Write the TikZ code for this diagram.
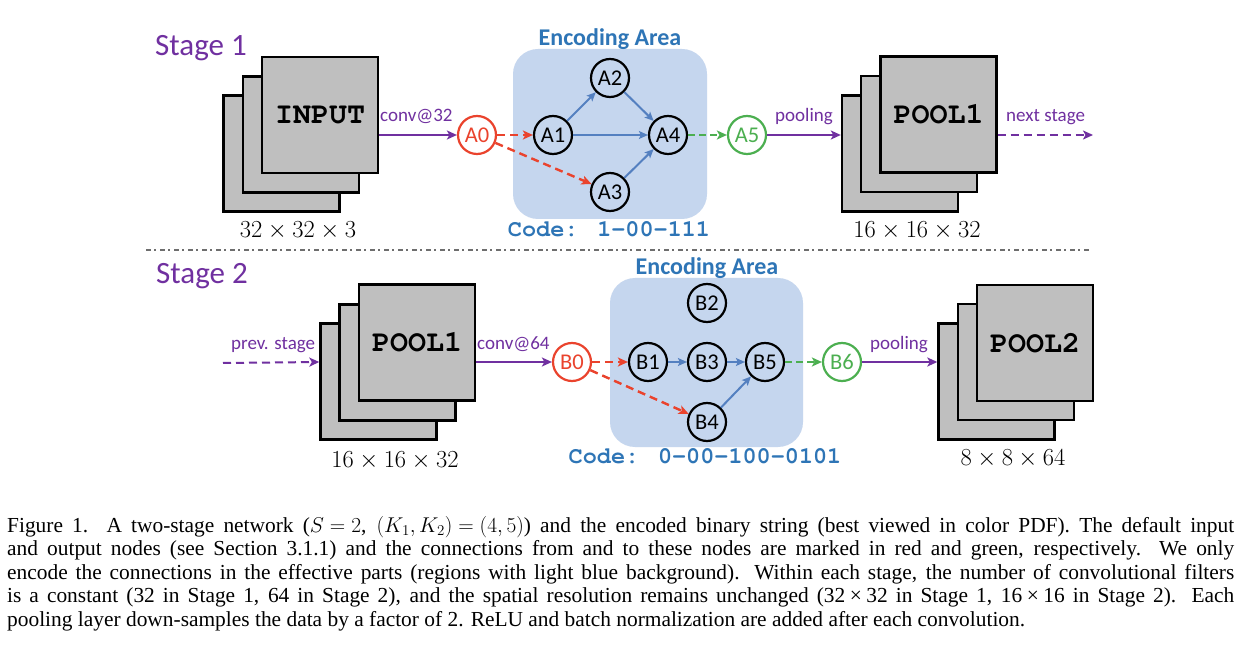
\RequirePackage{fix-cm}
\documentclass[tikz,border=0pt]{standalone}
\usepackage{fontspec}
\setmainfont{Liberation Serif}
\newfontfamily\calfont{Carlito}
\newfontfamily\courfont{TeX Gyre Cursor}
\usetikzlibrary{arrows.meta}
\definecolor{cpurple}{RGB}{112,48,160}
\definecolor{cred}{RGB}{234,67,45}
\definecolor{cgreen}{RGB}{76,175,80}
\definecolor{cblue}{RGB}{46,117,182}
\definecolor{carrow}{RGB}{84,128,192}
\definecolor{cfill}{RGB}{197,214,238}
\definecolor{cgray}{RGB}{191,191,191}
\definecolor{csep}{RGB}{110,110,110}
\newcommand{\fixmath}{\thickmuskip=5mu\relax\medmuskip=4mu\relax}
\newcommand{\tx}{\hspace{4.5pt}×\hspace{4.5pt}}
\tikzset{
  sq/.style={draw=black, fill=cgray, line width=2.4pt, minimum width=116pt, minimum height=116pt, inner sep=0pt, font=\courfont\bfseries\fontsize{30}{30}\selectfont},
  circ/.style={circle, draw=black, line width=2.2pt, minimum size=38pt, inner sep=0pt, font=\calfont\fontsize{22.5}{22.5}\selectfont},
  redc/.style={circ, draw=cred, text=cred, fill=white},
  greenc/.style={circ, draw=cgreen, text=cgreen, fill=white},
  tip/.style={-{Stealth[length=10pt,width=9pt,inset=2.5pt]}},
  parr/.style={draw=cpurple, line width=2pt, tip},
  pdash/.style={parr, dash pattern=on 8pt off 5pt},
  rarr/.style={draw=cred, line width=2.4pt, dash pattern=on 8pt off 5pt, tip},
  garr/.style={draw=cgreen, line width=2pt, dash pattern=on 7pt off 4pt, tip},
  barr/.style={draw=carrow, line width=2pt, -{Stealth[length=9pt,width=8pt,inset=2pt]}},
  area/.style={fill=cfill, rounded corners=25pt},
  stagelbl/.style={text=cpurple, font=\calfont\fontsize{31}{31}\selectfont, inner sep=0pt, anchor=base west},
  arealbl/.style={text=cblue, font=\calfont\bfseries\fontsize{24}{24}\selectfont, inner sep=0pt, anchor=base},
  edgelbl/.style={text=cpurple, font=\calfont\fontsize{19}{19}\selectfont, inner sep=0pt, anchor=base west},
  dimlbl/.style={font=\fontsize{24.5}{24.5}\selectfont, inner sep=0pt, anchor=base},
  codelbl/.style={text=cblue, font=\courfont\bfseries\fontsize{23.5}{23.5}\selectfont, inner sep=0pt, anchor=base},
  capline/.style={font=\fontsize{21.4}{23}\selectfont\fixmath, inner sep=0pt, anchor=base west, text height=14pt, text depth=4pt}
}
\begin{document}
\begin{tikzpicture}[x=1pt,y=-1pt]
\useasboundingbox (0,0) rectangle (1240,652);
\fill[white] (0,0) rectangle (1240,652);

% ---------------- Stage 1 ----------------
\node[stagelbl] (st1) at (155,56) {Stage 1};
\fill[area] (513,49) rectangle (707,219);
\node[arealbl] (ea1) at (610,46) {Encoding Area};

\node[sq] (inA) at (281.5,153.5) {};
\node[sq] (inB) at (301,134.5) {};
\node[sq] (inC) at (320,115) {INPUT};
\node[dimlbl] (d1) at (298,238) {$32\times32\times3$};

\node[redc] (A0) at (477,135) {A0};
\node[circ] (A1) at (553,135) {A1};
\node[circ] (A2) at (610,78) {A2};
\node[circ] (A3) at (610,192) {A3};
\node[circ] (A4) at (668,135) {A4};
\node[greenc] (A5) at (747,135) {A5};
\node[codelbl] (c1) at (609,237) {Code: 1-00-111};

\node[sq] (p1A) at (900,153.5) {};
\node[sq] (p1B) at (919,134) {};
\node[sq] (p1C) at (938.5,114.5) {POOL1};
\node[dimlbl] (d2) at (917,238) {$16\times16\times32$};
\coordinate (ns) at (1093,135);

\draw[parr] (inC.east |- A0) -- (A0);
\node[edgelbl] (l1) at (380,122) {conv@32};
\draw[rarr] (A0) -- (A1);
\draw[rarr] (A0) -- (A3);
\draw[barr] (A1) -- (A2);
\draw[barr] (A1) -- (A4);
\draw[barr] (A2) -- (A4);
\draw[barr] (A3) -- (A4);
\draw[garr] (A4) -- (A5);
\draw[parr] (A5) -- (p1A.west |- A5);
\node[edgelbl] (l2) at (775,122) {pooling};
\draw[pdash] (p1C.east |- A5) -- (ns);
\node[edgelbl] (l3) at (1006,122) {next stage};

% separator
\coordinate (s1) at (146,250);
\coordinate (s2) at (1092,250);
\draw[csep, line width=1.3pt, dash pattern=on 5pt off 3pt on 1.5pt off 4.5pt] (s1) -- (s2);

% ---------------- Stage 2 ----------------
\node[stagelbl] (st2) at (156,284) {Stage 2};
\fill[area] (610,278) rectangle (803,447);
\node[arealbl] (ea2) at (707,275) {Encoding Area};

\node[sq] (qA) at (378.5,381.5) {};
\node[sq] (qB) at (397.5,362.5) {};
\node[sq] (qC) at (417,342.5) {POOL1};
\node[dimlbl] (d3) at (395,467) {$16\times16\times32$};

\node[redc] (B0) at (572,362) {B0};
\node[circ] (B1) at (648,362) {B1};
\node[circ] (B2) at (707,303) {B2};
\node[circ] (B3) at (707,362) {B3};
\node[circ] (B4) at (707,422) {B4};
\node[circ] (B5) at (765,362) {B5};
\node[greenc] (B6) at (842,362) {B6};
\node[codelbl] (c2) at (705,463) {Code: 0-00-100-0101};

\node[sq] (rA) at (996.5,381.5) {};
\node[sq] (rB) at (1016,362) {};
\node[sq] (rC) at (1035,343) {POOL2};
\node[dimlbl] (d4) at (1013,465) {$8\times8\times64$};
\coordinate (ps) at (223,363);

\draw[pdash] (ps) -- (qA.west |- B0);
\node[edgelbl] (l4) at (231,350) {prev. stage};
\draw[parr] (qC.east |- B0) -- (B0);
\node[edgelbl] (l5) at (477,350) {conv@64};
\draw[rarr] (B0) -- (B1);
\draw[rarr] (B0) -- (B4);
\draw[barr] (B1) -- (B3);
\draw[barr] (B3) -- (B5);
\draw[barr] (B4) -- (B5);
\draw[garr] (B5) -- (B6);
\draw[parr] (B6) -- (rA.west |- B6);
\node[edgelbl] (l6) at (870,350) {pooling};

% ---------------- Caption ----------------
\node[capline] (cap1) at (7,532) {\makebox[1227pt][s]{Figure 1.\ \ A two-stage network ($S=2$, $(K_1,K_2)=(4,5)$) and the encoded binary string (best viewed in color PDF). The default input}};
\node[capline] (cap2) at (7,555.5) {\makebox[1227pt][s]{and output nodes (see Section 3.1.1) and the connections from and to these nodes are marked in red and green, respectively.\ \ We only}};
\node[capline] (cap3) at (7,579) {\makebox[1227pt][s]{encode the connections in the effective parts (regions with light blue background). Within each stage, the number of convolutional filters}};
\node[capline] (cap4) at (7,602.5) {\makebox[1227pt][s]{is a constant (32 in Stage 1, 64 in Stage 2), and the spatial resolution remains unchanged (32\tx32 in Stage 1, 16\tx16 in Stage 2). Each}};
\node[capline] (cap5) at (7,626) {pooling layer down-samples the data by a factor of 2. ReLU and batch normalization are added after each convolution.};
\end{tikzpicture}
\end{document}
